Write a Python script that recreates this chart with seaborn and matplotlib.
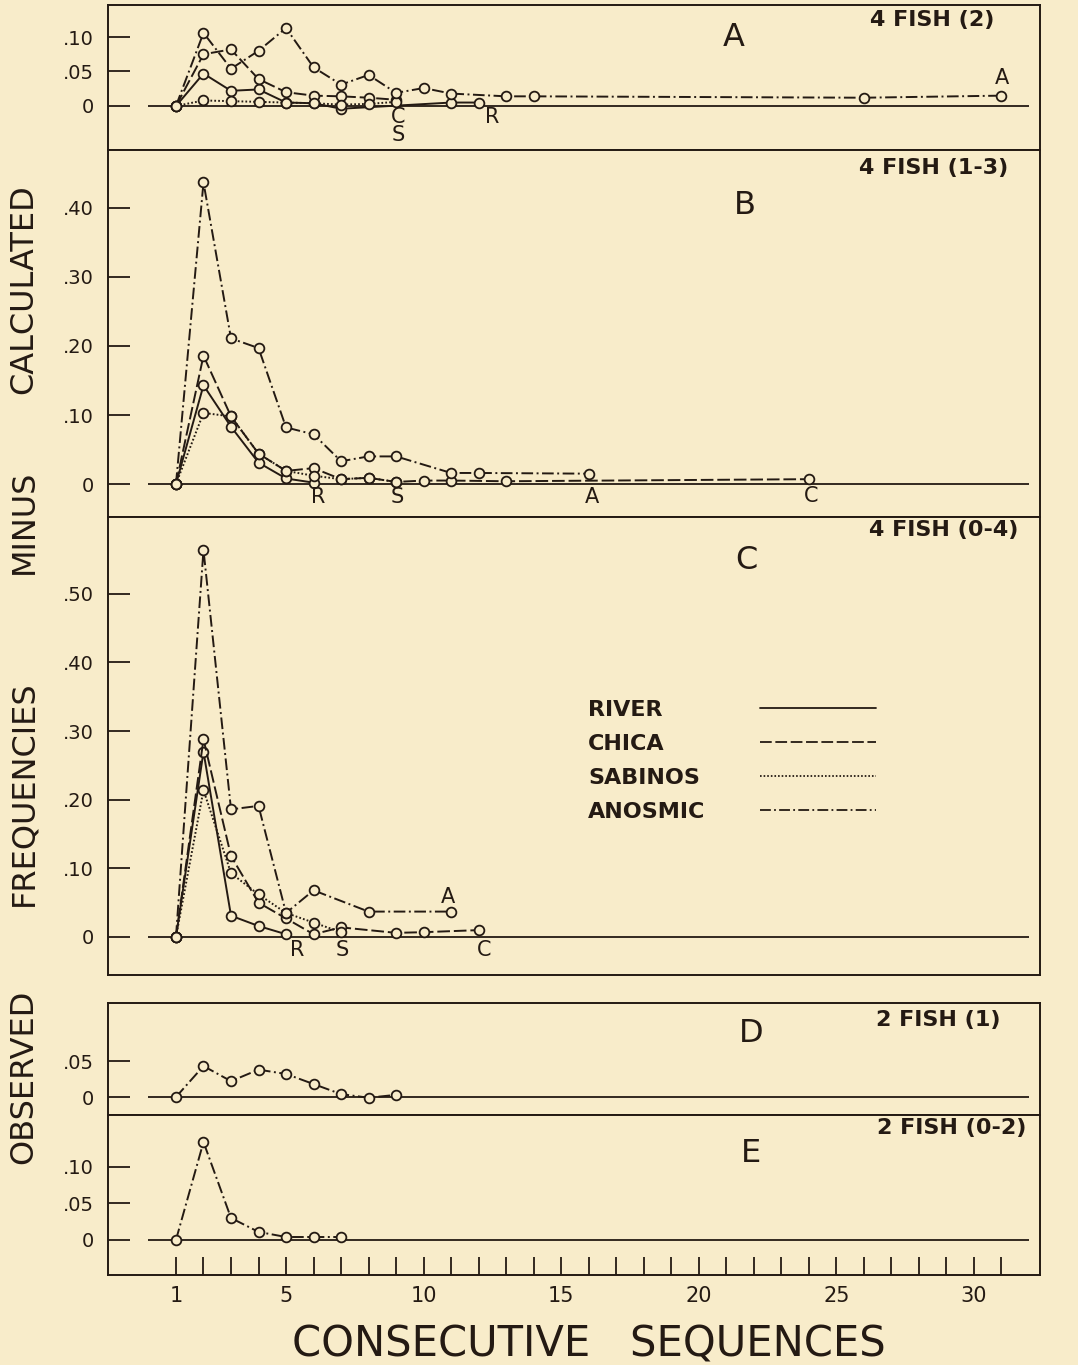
#diferencias observadas menos calculadas (secuencias consecutivas)

import pandas as pd
import numpy as np
import matplotlib
matplotlib.use("Agg")
import matplotlib.pyplot as plt
from matplotlib.lines import Line2D
import seaborn as sns

# panel A - 4 fish (2)
a_river_x = [1, 2, 3, 4, 5, 6, 7, 11, 12]
a_river = [0, .047, .022, .024, .005, .004, -.004, .005, .005]
a_chica_x = [1, 2, 3, 4, 5, 6, 7, 8, 9]
a_chica = [0, .075, .082, .039, .020, .015, .014, .012, .009]
a_sabinos_x = [1, 2, 3, 4, 5, 6, 7, 8, 9]
a_sabinos = [0, .008, .007, .006, .005, .004, .002, .003, .006]
a_anosmic_x = [1, 2, 3, 4, 5, 6, 7, 8, 9, 10, 11, 13, 14, 26, 31]
a_anosmic = [0, .106, .054, .080, .113, .056, .031, .045, .019, .026, .018, .014, .014, .012, .015]

# panel B - 4 fish (1-3)
b_river_x = [1, 2, 3, 4, 5, 6]
b_river = [0, .143, .083, .031, .008, .002]
b_chica_x = [1, 2, 3, 4, 5, 6, 7, 8, 9, 10, 11, 13, 24]
b_chica = [0, .186, .098, .044, .019, .023, .007, .009, .003, .005, .005, .004, .007]
b_sabinos_x = [1, 2, 3, 4, 5, 6, 7, 8, 9]
b_sabinos = [0, .103, .098, .044, .019, .012, .007, .009, .003]
b_anosmic_x = [1, 2, 3, 4, 5, 6, 7, 8, 9, 11, 12, 16]
b_anosmic = [0, .437, .211, .197, .082, .072, .033, .040, .040, .016, .016, .015]

# panel C - 4 fish (0-4)
c_river_x = [1, 2, 3, 4, 5]
c_river = [0, .270, .031, .016, .004]
c_chica_x = [1, 2, 3, 4, 5, 6, 7, 9, 10, 12]
c_chica = [0, .288, .118, .050, .027, .004, .014, .006, .007, .010]
c_sabinos_x = [1, 2, 3, 4, 5, 6, 7]
c_sabinos = [0, .214, .093, .062, .035, .021, .007]
c_anosmic_x = [1, 2, 3, 4, 5, 6, 8, 11]
c_anosmic = [0, .564, .186, .191, .035, .068, .037, .037]

# panel D - 2 fish (1)
d_anosmic_x = [1, 2, 3, 4, 5, 6, 7, 8, 9]
d_anosmic = [0, .043, .022, .038, .032, .018, .004, -.001, .003]

# panel E - 2 fish (0-2)
e_anosmic_x = [1, 2, 3, 4, 5, 6, 7]
e_anosmic = [0, .134, .030, .011, .004, .004, .004]

grupos = ["RIVER", "CHICA", "SABINOS", "ANOSMIC"]

bg = "#f8ecca"
ink = "#241a13"

sns.set_theme(style="white")
plt.rcParams['font.family'] = ['DejaVu Sans']
plt.rcParams['axes.facecolor'] = bg

dashes = {"RIVER": "", "CHICA": (6.5, 2), "SABINOS": (0.9, 1.1), "ANOSMIC": (6, 1.8, 1, 1.8)}
marcas = {g: "o" for g in grupos}


def tabla(series):
    filas = []
    for nombre, xs, ys in series:
        for x, y in zip(xs, ys):
            filas.append({"seq": x, "val": y, "grupo": nombre})
    return pd.DataFrame(filas)


fig = plt.figure(figsize=(10.78, 13.65), dpi=100, facecolor=bg)
gs = fig.add_gridspec(6, 1, height_ratios=[145, 367, 458, 28, 112, 160], hspace=0,
                      left=108 / 1078, right=1040 / 1078, top=1 - 5 / 1365, bottom=1 - 1275 / 1365)
axA = fig.add_subplot(gs[0])
axB = fig.add_subplot(gs[1], sharex=axA)
axC = fig.add_subplot(gs[2], sharex=axA)
axD = fig.add_subplot(gs[4], sharex=axA)
axE = fig.add_subplot(gs[5], sharex=axA)

paneles = [
    (axA, [("RIVER", a_river_x, a_river), ("CHICA", a_chica_x, a_chica),
           ("SABINOS", a_sabinos_x, a_sabinos), ("ANOSMIC", a_anosmic_x, a_anosmic)],
     (-0.0638, 0.1464), [0, .05, .10], ["0", ".05", ".10"], "A", "4 FISH (2)"),
    (axB, [("RIVER", b_river_x, b_river), ("CHICA", b_chica_x, b_chica),
           ("SABINOS", b_sabinos_x, b_sabinos), ("ANOSMIC", b_anosmic_x, b_anosmic)],
     (-0.0478, 0.484), [0, .1, .2, .3, .4], ["0", ".10", ".20", ".30", ".40"], "B", "4 FISH (1-3)"),
    (axC, [("RIVER", c_river_x, c_river), ("CHICA", c_chica_x, c_chica),
           ("SABINOS", c_sabinos_x, c_sabinos), ("ANOSMIC", c_anosmic_x, c_anosmic)],
     (-0.0554, 0.612), [0, .1, .2, .3, .4, .5], ["0", ".10", ".20", ".30", ".40", ".50"], "C", "4 FISH (0-4)"),
    (axD, [("ANOSMIC", d_anosmic_x, d_anosmic)],
     (-0.025, 0.1306), [0, .05], ["0", ".05"], "D", "2 FISH (1)"),
    (axE, [("ANOSMIC", e_anosmic_x, e_anosmic)],
     (-0.048, 0.171), [0, .05, .10], ["0", ".05", ".10"], "E", "2 FISH (0-2)"),
]

# posiciones de letras y titulos (fraccion de ejes)
letra_pos = {"A": (0.671, 0.779), "B": (0.683, 0.850), "C": (0.685, 0.906), "D": (0.690, 0.732), "E": (0.690, 0.762)}
titulo_pos = {"A": (0.884, 0.897), "B": (0.886, 0.951), "C": (0.897, 0.972), "D": (0.891, 0.848), "E": (0.905, 0.919)}

for ax, series, ylim, yt, ytl, letra, titulo in paneles:
    df = tabla(series)
    ax.hlines(0, 0, 32, color=ink, lw=1.3, zorder=1)
    sns.lineplot(data=df, x="seq", y="val", hue="grupo", style="grupo",
                 palette={g: ink for g in grupos}, dashes=dashes, markers=marcas,
                 estimator=None, sort=False, legend=False, ax=ax,
                 linewidth=1.4, markersize=7, markerfacecolor=bg,
                 markeredgecolor=ink, markeredgewidth=1.3, zorder=3)
    ax.set_xlim(-1.47, 32.4)
    ax.set_ylim(*ylim)
    ax.set_yticks(yt)
    ax.set_yticklabels(ytl)
    ax.set_xlabel("")
    ax.set_ylabel("")
    ax.tick_params(axis="y", direction="in", length=16, width=1.3, pad=10,
                   labelsize=14, colors=ink, left=True)
    for s in ax.spines.values():
        s.set_color(ink)
        s.set_linewidth(1.4)
        s.set_visible(True)
    ax.text(*letra_pos[letra], letra, transform=ax.transAxes, fontsize=23,
            color=ink, ha="center", va="center")
    ax.text(*titulo_pos[letra], titulo, transform=ax.transAxes, fontsize=16,
            color=ink, ha="center", va="center", fontweight="bold")

for ax in [axA, axB, axC, axD]:
    ax.tick_params(axis="x", bottom=False, labelbottom=False)

etiquetas_x = [str(i) if i in (1, 5, 10, 15, 20, 25, 30) else "" for i in range(1, 32)]
axE.set_xticks(range(1, 32))
axE.set_xticklabels(etiquetas_x)
axE.tick_params(axis="x", direction="in", length=13, width=1.3, pad=8,
                labelsize=15, colors=ink, bottom=True)

# letras al final de cada curva
finales = [
    (axA, 9.07, -0.016, "C"), (axA, 9.07, -0.042, "S"), (axA, 12.5, -0.016, "R"), (axA, 31, 0.041, "A"),
    (axB, 6.16, -0.019, "R"), (axB, 9.04, -0.019, "S"), (axB, 16.1, -0.019, "A"), (axB, 24.1, -0.017, "C"),
    (axC, 5.4, -0.019, "R"), (axC, 7.04, -0.019, "S"), (axC, 12.2, -0.019, "C"), (axC, 10.9, 0.058, "A"),
]
for ax, x, y, t in finales:
    ax.text(x, y, t, fontsize=15, color=ink, ha="center", va="center")

# leyenda: textos a la izquierda, lineas a la derecha
estilos = {"RIVER": "-", "CHICA": (0, (6.5, 2)), "SABINOS": (0, (0.9, 1.1)), "ANOSMIC": (0, (6, 1.8, 1, 1.8))}
h_txt = [Line2D([], [], color="none") for g in grupos]
leg1 = axC.legend(h_txt, grupos, loc="upper left", bbox_to_anchor=(0.515, 0.600),
                  frameon=False, handlelength=0, handletextpad=0, labelspacing=0.62,
                  borderpad=0, borderaxespad=0, labelcolor=ink,
                  prop={"size": 16, "weight": "bold"})
axC.add_artist(leg1)
h_lin = [Line2D([], [], color=ink, lw=1.3, linestyle=estilos[g]) for g in grupos]
axC.legend(h_lin, [" "] * 4, loc="upper left", bbox_to_anchor=(0.6996, 0.600),
           frameon=False, handlelength=5.2, handletextpad=0, labelspacing=0.62,
           borderpad=0, borderaxespad=0, prop={"size": 16, "weight": "bold"})

# titulo del eje y en palabras separadas
for palabra, ypix in [("CALCULATED", 289), ("MINUS", 522), ("FREQUENCIES", 793), ("OBSERVED", 1077)]:
    fig.text(24 / 1078, 1 - ypix / 1365, palabra, rotation=90, ha="center", va="center",
             fontsize=23, color=ink)

fig.text(589 / 1078, 1 - 1345 / 1365, "CONSECUTIVE   SEQUENCES", ha="center", va="center",
         fontsize=30, color=ink)

fig.savefig("out.png", dpi=100, facecolor=bg)
